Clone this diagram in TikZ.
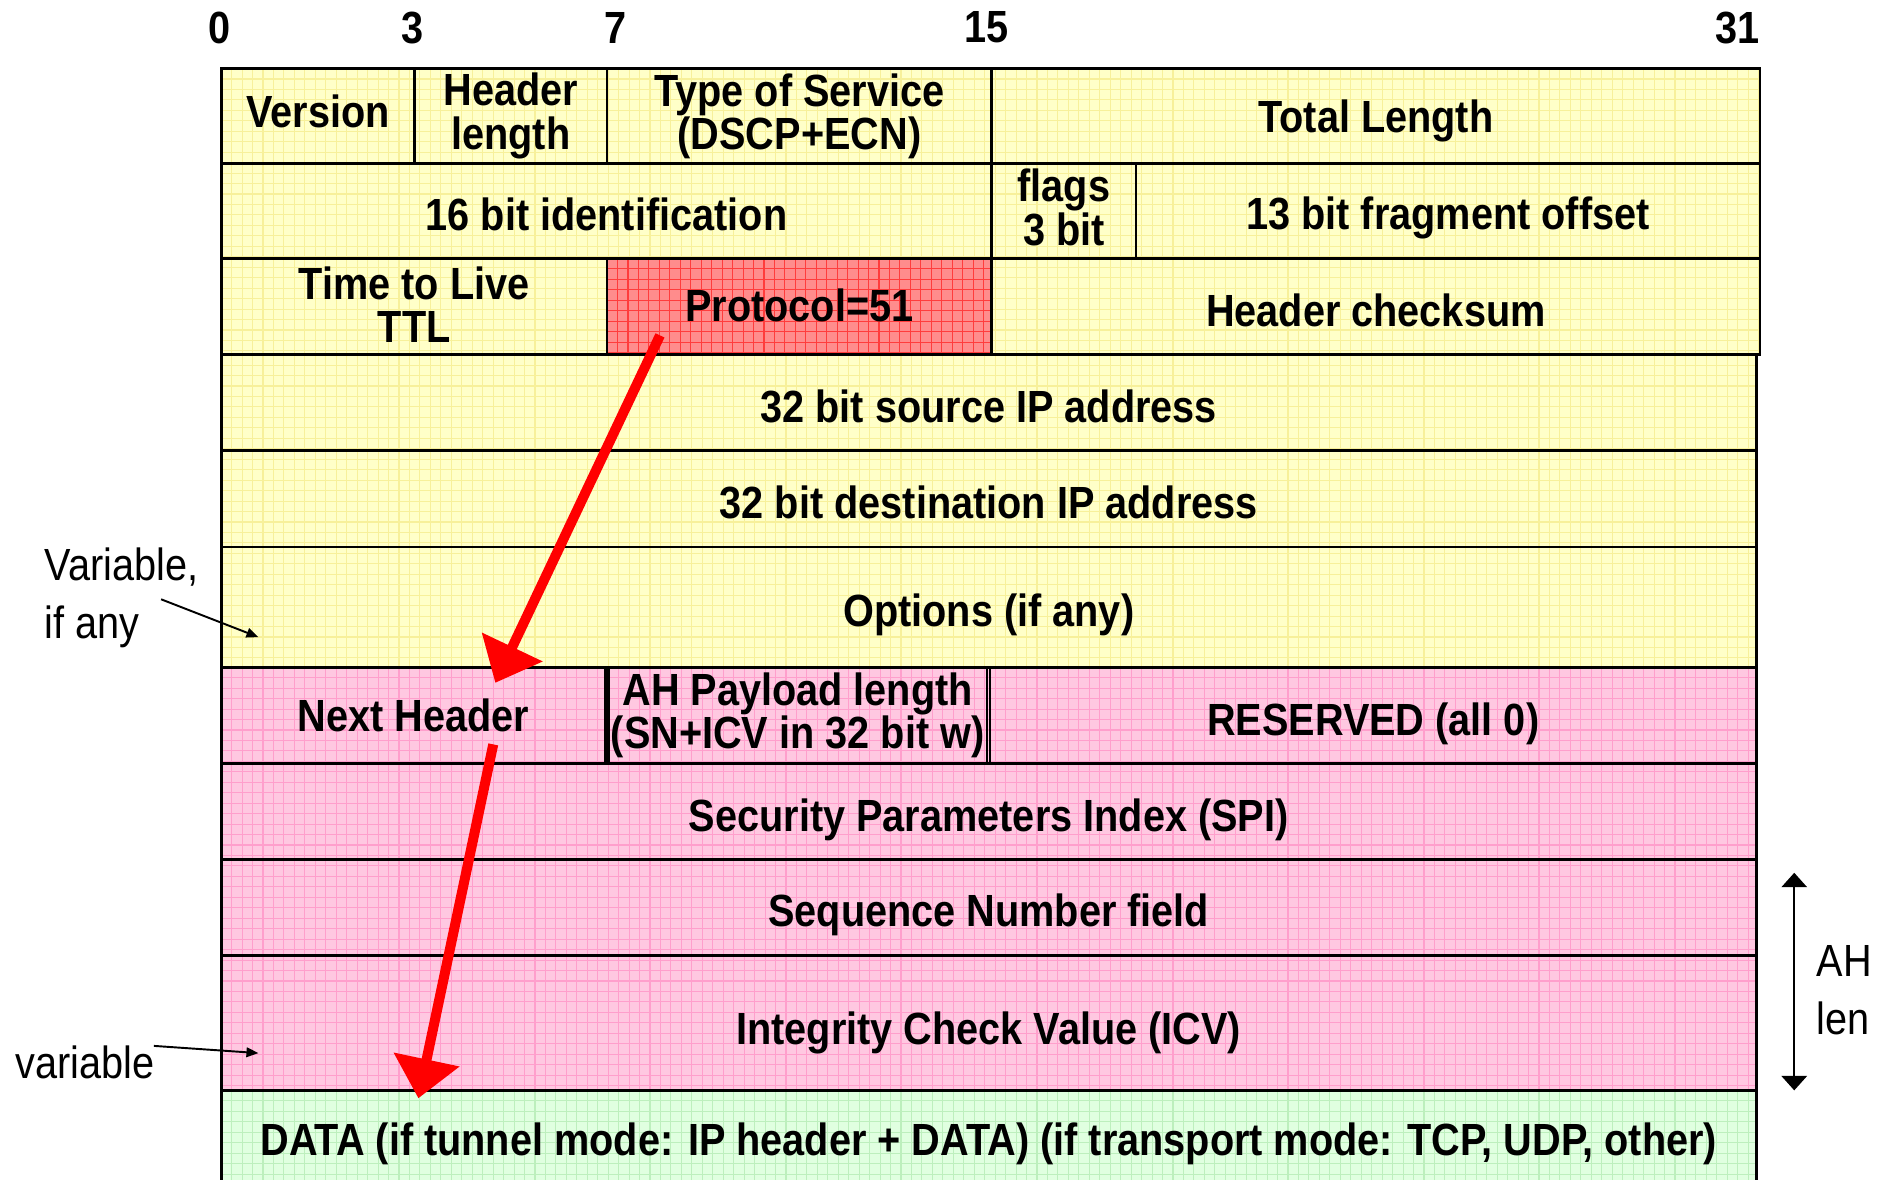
\documentclass[tikz,border=0pt]{standalone}
\usepackage{fontspec}
\setmainfont{Liberation Sans}[FakeStretch=0.88]
\usetikzlibrary{arrows.meta}

\definecolor{yelFill}{HTML}{FFFFC8}
\definecolor{yelLine}{HTML}{F7F09A}
\definecolor{redFill}{HTML}{FF8C8C}
\definecolor{redLine}{HTML}{FF3C3C}
\definecolor{pinkFill}{HTML}{FFC8E1}
\definecolor{pinkLine}{HTML}{FF9FCC}
\definecolor{greenFill}{HTML}{E0FFE0}
\definecolor{greenLine}{HTML}{BDEFBD}

\tikzset{
  field/.style={draw=black, line width=2.2pt, inner sep=0pt, align=center,
    font=\bfseries\fontsize{37.5}{36}\selectfont},
  % single line: centre the capitals in the cell
  oneline/.style={text height=26.85pt, text depth=0pt},
  bitnum/.style={inner sep=0pt, font=\bfseries\fontsize{37.5}{36}\selectfont},
  note/.style={inner sep=0pt, align=left, font=\fontsize{37.5}{48}\selectfont},
  noteArrow/.style={draw=black, line width=1.6pt, -{Triangle[length=10pt,width=8pt]}},
  spanArrow/.style={draw=black, line width=2pt,
    {Triangle[length=12pt,width=21pt]}-{Triangle[length=12pt,width=21pt]}},
  protoArrow/.style={draw=red, line width=8.3pt, -{Triangle[length=33pt,width=54pt]}},
}

% extra depth below the last line (lifts a multi-line label)
\newcommand\liftby[1]{\rule[-#1]{0pt}{0pt}}

% shaded background with a fine mesh of lines
\newcommand\meshrect[6]{%
  \begin{scope}
    \clip (#1,#2) rectangle (#3,#4);
    \fill[#5] (#1,#2) rectangle (#3,#4);
    \foreach \gi in {0,...,150}{\draw[#6, line width=0.9pt] ({#1+8.7*\gi},#2) -- ({#1+8.7*\gi},#4);}
    \foreach \gj in {0,...,60}{\draw[#6, line width=0.9pt] (#1,{#2+8.7*\gj}) -- (#3,{#2+8.7*\gj});}
  \end{scope}}

% one header field: [options] name x1 y1 x2 y2 text
\newcommand\fieldbox[7][]{%
  \pgfmathsetmacro\fbx{(#3+#5)/2}%
  \pgfmathsetmacro\fby{(#4+#6)/2}%
  \pgfmathsetmacro\fbw{#5-#3}%
  \pgfmathsetmacro\fbh{#6-#4}%
  \node[field, minimum width=\fbw pt, minimum height=\fbh pt, #1] (#2) at (\fbx,\fby) {#7};}

\begin{document}
\begin{tikzpicture}[x=1pt, y=-1pt]
\useasboundingbox (0,0) rectangle (1568,981);
\clip (0,0) rectangle (1568,981);

% backgrounds
\meshrect{184}{57}{1464}{295}{yelFill}{yelLine}
\meshrect{184}{295}{1461}{555}{yelFill}{yelLine}
\meshrect{505}{215}{825}{295}{redFill}{redLine}
\meshrect{184}{555}{1461}{907}{pinkFill}{pinkLine}
\meshrect{184}{907}{1461}{995}{greenFill}{greenLine}

% bit positions
\node[bitnum] (b0)  at (183,23)  {0};
\node[bitnum] (b3)  at (343,23)  {3};
\node[bitnum] (b7)  at (512,23)  {7};
\node[bitnum] (b15) at (821,23)  {15};
\node[bitnum] (b31) at (1445,23) {31};

% IP header
\fieldbox[oneline, text depth=8pt]{ver}{184}{57}{345}{136}{Version}
\fieldbox{hlen}{345}{57}{505}{136}{Header\\length}
\fieldbox{tos}{505}{57}{825}{136}{Type of Service\\(DSCP+ECN)}
\fieldbox[oneline]{tlen}{825}{57}{1464}{136}{Total Length}
\fieldbox[oneline, text height=31.85pt]{ident}{184}{136}{825}{215}{16 bit identification}
\fieldbox[font=\bfseries\fontsize{37.5}{35}\selectfont]{flags}{825}{136}{945}{215}{flags\\3 bit\liftby{6pt}}
\fieldbox[oneline, text height=30.85pt]{frag}{945}{136}{1464}{215}{13 bit fragment offset}
\fieldbox{ttl}{184}{215}{505}{295}{Time to Live\\TTL\liftby{3pt}}
\fieldbox[oneline, text depth=2pt]{proto}{505}{215}{825}{295}{Protocol=51}
\fieldbox[oneline, text height=33.85pt]{hcs}{825}{215}{1464}{295}{Header checksum}
\fieldbox[oneline, text height=32.85pt]{src}{184}{295}{1461}{375}{32 bit source IP address}
\fieldbox[oneline, text height=32.85pt]{dst}{184}{375}{1461}{455}{32 bit destination IP address}
\fieldbox[oneline, text height=32.85pt]{opt}{184}{455}{1461}{555}{Options (if any)}

% authentication header
\fieldbox[oneline]{nh}{184}{555}{503.5}{635}{Next Header}
\fieldbox{plen}{506}{555}{821}{635}{AH Payload length\\(SN+ICV in 32 bit w)}
\fieldbox[oneline, text height=32.85pt]{rsv}{823.5}{555}{1461}{635}{RESERVED (all 0)}
\fieldbox[oneline, text height=32.85pt]{spi}{184}{635}{1461}{715}{Security Parameters Index (SPI)}
\fieldbox[oneline, text height=30.85pt]{seq}{184}{715}{1461}{795}{Sequence Number field}
\fieldbox[oneline, text height=34.85pt]{icv}{184}{795}{1461}{907}{Integrity Check Value (ICV)}
\fieldbox[oneline]{data}{184}{907}{1461}{989}{DATA (if tunnel mode: IP header + DATA) (if transport mode: TCP, UDP, other)}

% side notes
\node[note, anchor=west] (varopt) at (37,497.5) {Variable,\\if any};
\node[note, anchor=base west] (varicv) at (13,897) {variable};
\node[note, anchor=west] (ahlen) at (1511,823.5) {AH\\len};

\coordinate (varoptTail) at (134,498.5);
\coordinate (varoptTip)  at (215,530);
\coordinate (varicvTail) at (128,870);
\coordinate (varicvTip)  at (215,876);
\coordinate (ahTop) at (1492.5,726);
\coordinate (ahBot) at (1492.5,907);
\draw[noteArrow] (varoptTail) -- (varoptTip);
\draw[noteArrow] (varicvTail) -- (varicvTip);
\draw[spanArrow] (ahTop) -- (ahBot);

% protocol chain
\coordinate (protoTail) at (549,279);
\coordinate (nhTip)     at (412,568);
\coordinate (nhTail)    at (410.3,619.2);
\coordinate (dataTip)   at (348,913.6);
\draw[protoArrow] (protoTail) -- (nhTip);
\draw[protoArrow] (nhTail) -- (dataTip);
\end{tikzpicture}
\end{document}
